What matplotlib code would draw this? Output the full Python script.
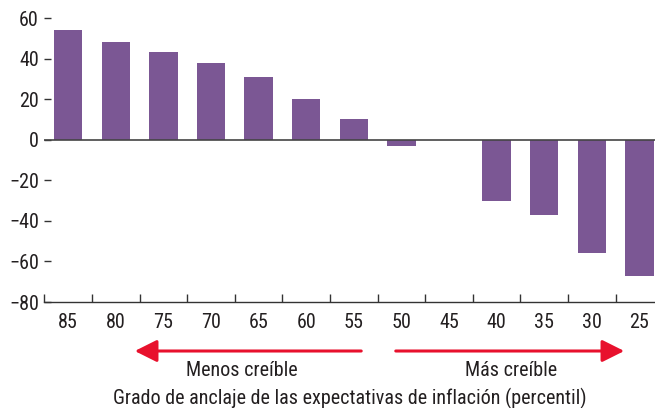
import matplotlib
matplotlib.use("Agg")
import matplotlib.pyplot as plt
from matplotlib import font_manager

names = {f.name for f in font_manager.fontManager.ttflist}
fam = "Roboto"
for cand in ["Roboto Condensed", "Archivo Narrow", "PT Sans Narrow", "Liberation Sans Narrow", "Open Sans Condensed"]:
    if cand in names:
        fam = cand
        break
plt.rcParams['font.family'] = [fam, 'DejaVu Sans']

categories = ["85", "80", "75", "70", "65", "60", "55", "50", "45", "40", "35", "30", "25"]
values = [54, 48, 43, 38, 31, 20, 10, -3, 0, -30, -37, -56, -67]
yticks = [-80, -60, -40, -20, 0, 20, 40, 60]
ytick_labels = ["\u221280", "\u221260", "\u221240", "\u221220", "0", "20", "40", "60"]
left_label = "Menos creíble"
right_label = "Más creíble"
xlabel = "Grado de anclaje de las expectativas de inflación (percentil)"

W, H = 655, 408
fig = plt.figure(figsize=(W / 100, H / 100), dpi=100)
x0, x1 = 44.4, 44.4 + 13 * 47.6
ytop, ybot = 18, 302
ax = fig.add_axes([x0 / W, 1 - ybot / H, (x1 - x0) / W, (ybot - ytop) / H])

purple = "#7B5794"
red = "#E8112D"
txt = "#231F20"

xs = list(range(len(categories)))
ax.bar(xs, values, width=0.6, color=purple, zorder=2)
ax.axhline(0, color="#444444", lw=1.2, zorder=3)

ax.set_xlim(-0.5, len(categories) - 0.5)
ax.set_ylim(-80, 60)
ax.set_yticks(yticks)
ax.set_yticklabels(ytick_labels)
ax.set_xticks(xs)
ax.set_xticklabels(categories)
ax.set_xticks([i - 0.5 for i in range(len(categories) + 1)], minor=True)

for s in ["top", "right", "left"]:
    ax.spines[s].set_visible(False)
ax.spines["bottom"].set_color("#333333")
ax.spines["bottom"].set_linewidth(1.0)

ax.tick_params(axis="x", which="major", length=0, pad=8, labelsize=14.5, labelcolor=txt)
ax.tick_params(axis="x", which="minor", direction="in", length=6, width=1, color="#333333")
ax.tick_params(axis="y", direction="in", length=5, width=1, color="#333333",
               labelsize=14.5, labelcolor=txt, pad=4)

def fx(px):
    return px / W
def fy(py):
    return 1 - py / H

fig.patches.append(matplotlib.patches.FancyArrowPatch(
    (fx(364), fy(351)), (fx(132), fy(351)), transform=fig.transFigure,
    arrowstyle="-|>,head_length=9,head_width=4.5", color=red, lw=2.2, mutation_scale=1.5))
fig.patches.append(matplotlib.patches.FancyArrowPatch(
    (fx(393), fy(351)), (fx(627), fy(351)), transform=fig.transFigure,
    arrowstyle="-|>,head_length=9,head_width=4.5", color=red, lw=2.2, mutation_scale=1.5))

fig.text(fx(242), fy(370), left_label, ha="center", va="center", fontsize=14.5, color=txt)
fig.text(fx(511), fy(370), right_label, ha="center", va="center", fontsize=14.5, color=txt)
fig.text(fx(350), fy(398), xlabel, ha="center", va="center", fontsize=14.5, color=txt)

fig.savefig("out.png", dpi=100)
